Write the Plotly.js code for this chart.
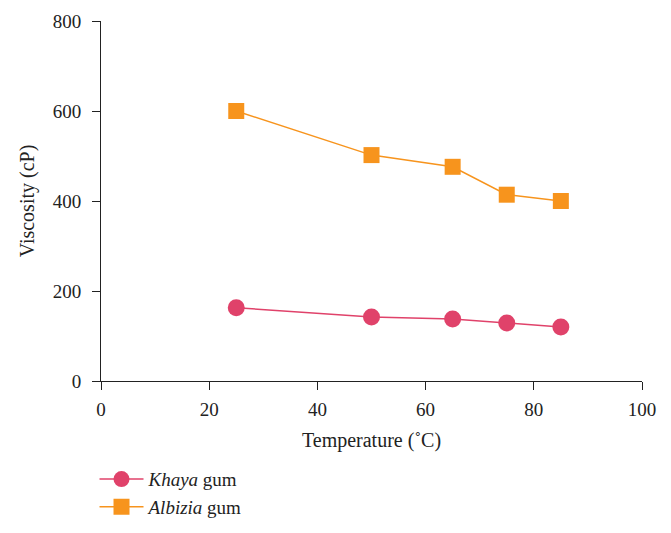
<!DOCTYPE html>
<html>
<head>
<meta charset="utf-8">
<script src="https://cdn.plot.ly/plotly-3.0.1.min.js"></script>
<style>html,body{margin:0;padding:0;background:#fff;}#chart{width:671px;height:533px;}</style>
</head>
<body>
<div id="chart"></div>
<script>
var temperature = [25, 50, 65, 75, 85];
var khayaViscosity = [163, 142, 138, 129, 120];
var albiziaViscosity = [600, 502, 476, 414, 400];
var xTicks = [0, 20, 40, 60, 80, 100];
var yTicks = [0, 200, 400, 600, 800];

var fontFam = '"Liberation Serif", "DejaVu Serif", serif';

var traces = [
  {
    x: temperature, y: khayaViscosity, name: '<i>Khaya</i> gum',
    mode: 'lines+markers', type: 'scatter',
    line: {color: '#E0426A', width: 1.5},
    marker: {symbol: 'circle', size: 17, color: '#E0426A'}
  },
  {
    x: temperature, y: albiziaViscosity, name: '<i>Albizia</i> gum',
    mode: 'lines+markers', type: 'scatter',
    line: {color: '#F7941D', width: 1.5},
    marker: {symbol: 'square', size: 16, color: '#F7941D'}
  }
];

var layout = {
  width: 671, height: 533,
  margin: {l: 101, r: 29, t: 21, b: 152, autoexpand: false},
  paper_bgcolor: '#fff', plot_bgcolor: '#fff',
  font: {family: fontFam, size: 18, color: '#222'},
  showlegend: true,
  legend: {x: -0.012, xanchor: 'left', y: -0.22, yanchor: 'top',
           itemwidth: 44,
           font: {family: fontFam, size: 19, color: '#222'},
           tracegroupgap: 0, bgcolor: 'rgba(0,0,0,0)'},
  xaxis: {
    range: [0, 100], tickvals: xTicks, ticktext: xTicks.map(String),
    showline: true, linecolor: '#222', linewidth: 1,
    ticks: 'outside', ticklen: 8, tickcolor: '#222',
    showgrid: false, zeroline: false, automargin: false,
    ticklabelstandoff: 3,
    tickfont: {family: fontFam, size: 19, color: '#222'},
    title: {text: 'Temperature (˚C)', font: {family: fontFam, size: 20, color: '#222'}, standoff: 14}
  },
  yaxis: {
    range: [0, 800], tickvals: yTicks, ticktext: yTicks.map(String),
    showline: true, linecolor: '#222', linewidth: 1,
    ticks: 'outside', ticklen: 8, tickcolor: '#222',
    showgrid: false, zeroline: false, automargin: false,
    ticklabelstandoff: 7,
    tickfont: {family: fontFam, size: 19, color: '#222'},
    title: {text: 'Viscosity (cP)', font: {family: fontFam, size: 20, color: '#222'}, standoff: 12}
  }
};

Plotly.newPlot('chart', traces, layout, {displayModeBar: false, staticPlot: true});
</script>
</body>
</html>
